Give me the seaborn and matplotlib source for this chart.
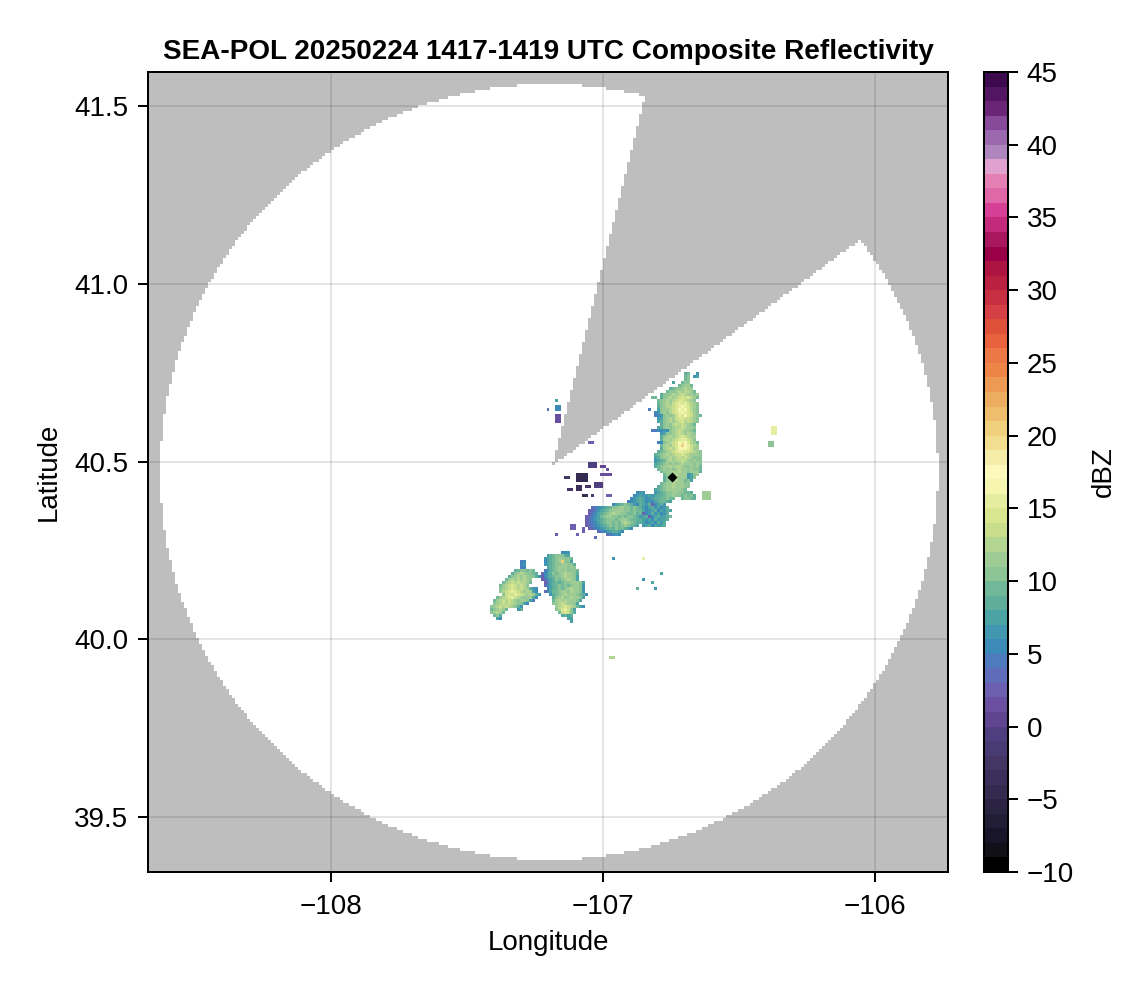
import numpy as np
import matplotlib
matplotlib.use("Agg")
import matplotlib.pyplot as plt
from matplotlib.colors import ListedColormap
import seaborn as sns

TITLE = "SEA-POL 20250224 1417-1419 UTC Composite Reflectivity"
XLABEL = "Longitude"
YLABEL = "Latitude"
CBAR_LABEL = "dBZ"
LON_TICKS = [-108, -107, -106]
LAT_TICKS = [39.5, 40.0, 40.5, 41.0, 41.5]
DBZ_TICKS = [-10, -5, 0, 5, 10, 15, 20, 25, 30, 35, 40, 45]
LON_RANGE = (-108.673, -105.732)
LAT_RANGE = (39.345, 41.596)
GRID_SIZE = 267

# Radar coverage
COVER_LON, COVER_LAT = -107.1985, 40.4705
COVER_RX, COVER_RY = 1.430, 1.0915
BLOCK_APEX = (-107.184, 40.490)
BLOCK_EDGE_A = (-106.846, 41.525)
BLOCK_EDGE_B = (-106.0625, 41.120)
SITE = (-106.7475, 40.457)

# One colour for each 1 dBZ band, from -10 upward
BAND_COLORS = [
    "#000000", "#111018", "#18142a", "#221d36", "#2a2442", "#332a50", "#3d2f5c",
    "#443565", "#483a72", "#4f3e80", "#5f4590", "#6a4fa0", "#6c5fb0", "#5f6cb8",
    "#4f7abe", "#3c8ab8", "#4297b0", "#4ca3a4", "#5fae9c", "#70b898", "#8cc496",
    "#9fcc94", "#b3d592", "#c8de8c", "#d8e690", "#e5eea0", "#f6f6b0", "#fbfabc",
    "#f6ecaa", "#f3de90", "#f0d07c", "#efbd6e", "#ecac62", "#ec9a55", "#ee8548",
    "#ec7845", "#e8623f", "#df5038", "#d44045", "#c63040", "#ba2040", "#ad1440",
    "#9a0048", "#a8185f", "#c42a7b", "#d63f95", "#e068a8", "#e580b5", "#e0a0d0",
    "#ae85bd", "#9c69ae", "#87499a", "#6a2478", "#531462", "#3d0a4e",
]

# Echo cells: '.' = no echo, t..z = -7..-1, 0-9, a.. = 10..
DBZ_CODE = "tuvwxyz0123456789abcdefghijklm"

NORTH_ORIGIN = (-106.864, 40.7574)
NORTH_ROWS = [
    "",
    "...............89..6",
    "...............9a.67",
    "...............9a",
    "...........7..9aa",
    ".............9abb9",
    "..........89aabcbb",
    ".........9aabcbccb9",
    ".......8aabcbcdcbbab",
    "....99.8abcbcdedecb9",
    "......9abcbcdeedcba",
    "......9abcbdefefdcba",
    "......8abccdefgfecba",
    "...4..7abbcdegfgecba",
    ".....56abacdefgfedba",
    ".....456ababdfegedba9",
    "......67abcbdeeddcba",
    "......78abcbcdecdcba",
    ".......8abacdcdcba9",
    "......78ababccdcbba",
    "....445565abcdcbba9",
    ".......67aabcdcbcba",
    ".......8abcbcdedcbb",
    ".......8bcbcdeffdca",
    "......55abcdegfgecb9",
    ".......9bcbdegkgfdcb",
    ".......8bcdcegggfdbb",
    "......89abcdeffeedcba",
    ".....89abcbcddedcbbba",
    ".....78abbcbcdcdcbaaa",
    ".....6789bcbccdcbabaa",
    ".....789abababcbbbaba",
    ".....89abbcbccbaabab9",
    "......9abababcbbabaa9",
    ".......9abbcbcbbabbb8",
    "........9abbcbbb67ab",
    "........8abbcbbb67a",
    "........8abacbb9a7",
]

ARC_ORIGIN = (-107.0809, 40.4451)
ARC_ROWS = [
    "..........................9abbcbbbaa",
    ".........................89abbcbbbaa",
    "........................789abbbbba9",
    "..................566...6789aabbaa998",
    ".................567667" + "67889aabaa9a9a8",
    "................567875678899a99..9aa98",
    "...............456787565789987",
    "..........5789a986587682" + "5786",
    "...3456789aabbaa9a98657867568",
    "..2346789abbbbaa9a997567857687",
    "..245789abcbbaa99a89256867568",
    ".234679abbaa9a9aa986782" + "5786789",
    ".2356789aaa9abba9988767586778",
    ".2345789aa9a9bcba98875675868",
    ".23456789a9a9aba987.67857678",
    "..234567898a99875",
    ".....345678875",
    "........34565",
]

SOUTHWEST_ORIGIN = (-107.4191, 40.2454)
SOUTHWEST_ROWS = [
    "........................556",
    "...................789aaa87",
    "..................6789abbaa9",
    "..........45......5789abkaa7",
    "..........56......6789aabbaa8",
    "..........45.......789abbbaba",
    "........89aa9a9...4689ababaaa9",
    ".......8abcbaa98.3578a9abcbba8",
    "......8abcbcbaa8625789aabcbba7",
    ".....9bcbcbcba...23678a9abcba7",
    "....9bcdcdccb9....2478989aabbba7",
    "...9bcdedcdca.....35789a9a9abba6",
    "...abcdedcdcb865...4789a9abcbba6",
    "...acdefedcbcb75..35799abbacbba6",
    "....adedfedcbcb86...689abcbbba985",
    "..9bcdefdcbabb85.....8abcabcbba7",
    ".9bcdcdcbabba74......9bcbcbbba7",
    ".abcdcdcbaa75........abcdcbba7",
    "abcdcdcba86...........bcdedcb975",
    "9abcb9...68...........acefda7",
    "abcb9..................9deda8",
    ".9a8....................7878",
    "..75......................77",
    "...........................7",
]

# Isolated small echoes
SPECK_LON = [-107.033, -106.996, -106.977, -106.987, -107.077, -107.129, -107.116,
             -107.084, -107.054, -107.016, -107.037, -107.075, -107.058, -106.972,
             -107.109, -107.072, -107.091, -107.164, -107.022, -107.167, -107.167,
             -107.170, -107.198, -107.044, -106.964, -106.849, -106.784, -106.852,
             -106.876, -106.815, -106.801, -106.368, -106.386, -106.971, -106.621]
SPECK_LAT = [40.489, 40.485, 40.478, 40.461, 40.457, 40.450, 40.420,
             40.422, 40.426, 40.431, 40.406, 40.399, 40.399, 40.402,
             40.311, 40.304, 40.291, 40.291, 40.283, 40.654, 40.621,
             40.673, 40.648, 40.558, 40.230, 40.226, 40.183, 40.165,
             40.140, 40.155, 40.140, 40.589, 40.552, 39.944, 40.403]
SPECK_COLS = [3, 2, 1, 4, 4, 2, 2, 2, 2, 3, 1, 1, 1, 2, 2, 1, 1, 1, 1, 2, 2,
              1, 1, 2, 1, 1, 1, 1, 1, 1, 1, 2, 2, 2, 3]
SPECK_ROWS = [2, 1, 1, 1, 3, 1, 1, 2, 1, 2, 1, 1, 1, 1, 2, 2, 1, 1, 1, 2, 3,
              1, 1, 1, 1, 1, 1, 1, 1, 1, 1, 3, 2, 1, 3]
SPECK_DBZ = [-1, 0, 1, 1, -5, -3, -3, -4, -3, -1, -2, -5, -4, 2, 2, 2, 2, 2, 3, 5, 1,
             7, 3, 2, 6, 15, 7, 6, 8, 7, 6, 15, 10, 12, 11]

sns.set_theme(style="ticks")
plt.rcParams["font.family"] = ["Liberation Sans", "DejaVu Sans"]
plt.rcParams["axes.unicode_minus"] = True

W, H, DPI = 1146, 990, 100
LW = 2 * 72 / DPI
FS = 20
fig = plt.figure(figsize=(W / DPI, H / DPI), dpi=DPI, facecolor="white")
ax = fig.add_axes([148 / W, 1 - 872 / H, 800 / W, 800 / H])
cax = fig.add_axes([984 / W, 1 - 872 / H, 24 / W, 800 / H])

n = GRID_SIZE
dlon = (LON_RANGE[1] - LON_RANGE[0]) / n
dlat = (LAT_RANGE[1] - LAT_RANGE[0]) / n
lon_c = LON_RANGE[0] + (np.arange(n) + 0.5) * dlon
lat_c = LAT_RANGE[1] - (np.arange(n) + 0.5) * dlat
LON, LAT = np.meshgrid(lon_c, lat_c)


def to_x(lon):
    return (np.asarray(lon) - LON_RANGE[0]) / dlon


def to_y(lat):
    return (LAT_RANGE[1] - np.asarray(lat)) / dlat


# Coverage: gray outside range ring and inside blocked sector
inside = ((LON - COVER_LON) / COVER_RX) ** 2 + ((LAT - COVER_LAT) / COVER_RY) ** 2 <= 1
px, py = LON - BLOCK_APEX[0], (LAT - BLOCK_APEX[1])
ax_, ay_ = BLOCK_EDGE_A[0] - BLOCK_APEX[0], BLOCK_EDGE_A[1] - BLOCK_APEX[1]
bx_, by_ = BLOCK_EDGE_B[0] - BLOCK_APEX[0], BLOCK_EDGE_B[1] - BLOCK_APEX[1]
blocked = (ax_ * py - ay_ * px < 0) & (bx_ * py - by_ * px > 0)
coverage = (inside & ~blocked).astype(float)

sns.heatmap(coverage, ax=ax, cmap=ListedColormap(["#bebebe", "#ffffff"]), vmin=0, vmax=1,
            cbar=False, xticklabels=False, yticklabels=False)
ax.collections[-1].set_zorder(1)

# Echo field
field = np.full((n, n), np.nan)


def put_rows(origin, rows):
    c0 = int(round(to_x(origin[0])))
    r0 = int(round(to_y(origin[1])))
    for r, row in enumerate(rows):
        for c, ch in enumerate(row):
            if ch != ".":
                field[r0 + r, c0 + c] = DBZ_CODE.index(ch) - 7 + 0.5


put_rows(NORTH_ORIGIN, NORTH_ROWS)
put_rows(ARC_ORIGIN, ARC_ROWS)
put_rows(SOUTHWEST_ORIGIN, SOUTHWEST_ROWS)
for lo, la, nc, nr, v in zip(SPECK_LON, SPECK_LAT, SPECK_COLS, SPECK_ROWS, SPECK_DBZ):
    c0 = int(round(to_x(lo) - nc / 2))
    r0 = int(round(to_y(la) - nr / 2))
    field[r0:r0 + nr, c0:c0 + nc] = v + 0.5

sns.heatmap(field, ax=ax, cmap=ListedColormap(BAND_COLORS), vmin=-10, vmax=45,
            cbar=True, cbar_ax=cax, xticklabels=False, yticklabels=False,
            mask=np.isnan(field))
ax.collections[-1].set_zorder(3)

# Grid between coverage and echoes
for v in LON_TICKS:
    ax.axvline(to_x(v), color="black", alpha=0.1, lw=LW, zorder=2)
for v in LAT_TICKS:
    ax.axhline(to_y(v), color="black", alpha=0.1, lw=LW, zorder=2)

ax.plot(to_x(SITE[0]), to_y(SITE[1]), marker="D", ms=5.6, color="black", mec="none", zorder=5)

ax.set_xlim(0, n)
ax.set_ylim(n, 0)
ax.set_xticks(to_x(LON_TICKS))
ax.set_xticklabels([f"\u2212{abs(v)}" for v in LON_TICKS])
ax.set_yticks(to_y(LAT_TICKS))
ax.set_yticklabels([f"{v:.1f}" for v in LAT_TICKS])
ax.tick_params(axis="y", length=7.2, width=LW, labelsize=FS, color="black", labelcolor="black",
               pad=7, left=True)
ax.tick_params(axis="x", length=7.2, width=LW, labelsize=FS, color="black", labelcolor="black",
               pad=9, bottom=True)
ax.set_xlabel(XLABEL, fontsize=FS, color="black", labelpad=7)
ax.set_ylabel(YLABEL, fontsize=FS, color="black", labelpad=9)
ax.set_title(TITLE, fontsize=20.1, fontweight="bold", color="black", pad=9.5)
for s in ax.spines.values():
    s.set_visible(True)
    s.set_linewidth(LW)
    s.set_color("black")
    s.set_zorder(6)

cbar = ax.collections[-1].colorbar
cbar.set_ticks(DBZ_TICKS)
cbar.set_ticklabels([f"\u2212{abs(v)}" if v < 0 else str(v) for v in DBZ_TICKS])
cbar.ax.tick_params(length=7.5, width=LW, labelsize=FS, color="black", labelcolor="black", pad=6)
cbar.outline.set_linewidth(LW)
cbar.outline.set_edgecolor("black")
cbar.outline.set_visible(True)
cbar.set_label(CBAR_LABEL, fontsize=FS, color="black", labelpad=12)

fig.savefig("out.png", dpi=DPI, facecolor="white")
